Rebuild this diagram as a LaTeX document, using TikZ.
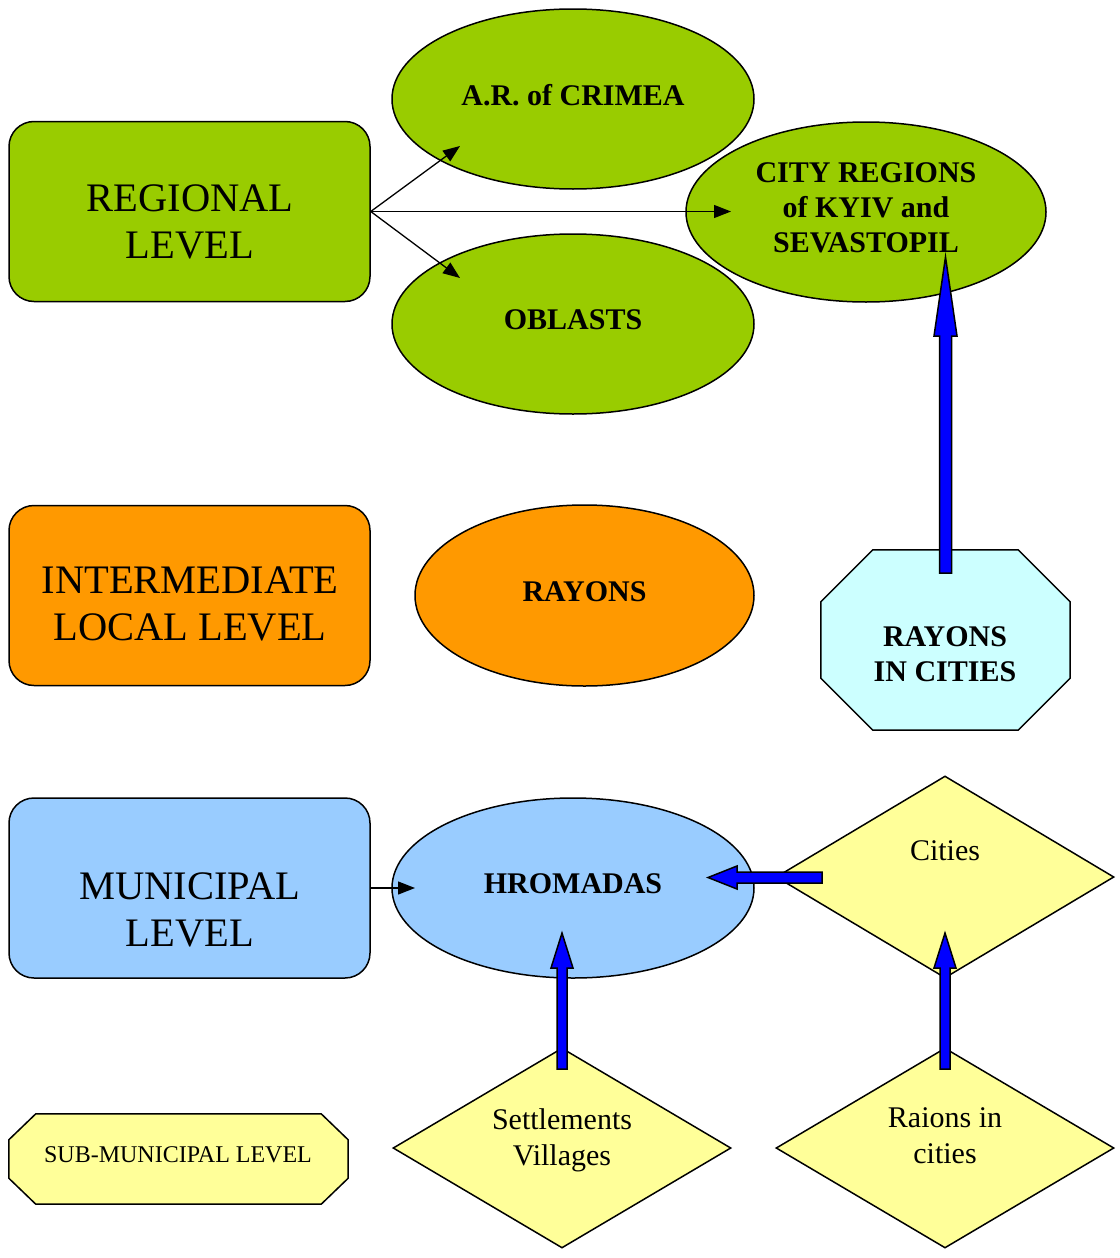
\documentclass[tikz,border=0pt]{standalone}
\usepackage{fontspec}
\setmainfont{Liberation Serif}
\usetikzlibrary{shapes.geometric,arrows.meta,calc}
\definecolor{cgreen}{HTML}{99CC00}
\definecolor{corange}{HTML}{FF9900}
\definecolor{cblue}{HTML}{99CCFF}
\definecolor{cyellow}{HTML}{FFFF99}
\definecolor{ccyan}{HTML}{CCFFFF}
\definecolor{cdeep}{HTML}{0000FF}
\begin{document}
\begin{tikzpicture}[x=1pt,y=-1pt,
  levelbox/.style={draw,line width=1.5pt,rounded corners=25pt,minimum width=361pt,minimum height=180pt,inner sep=0pt},
  leveltext/.style={font=\fontsize{40.5}{47}\selectfont,align=center,inner sep=0pt},
  ell/.style={draw,line width=1.5pt,ellipse,minimum width=362pt,minimum height=180pt,inner sep=0pt,font=\fontsize{30}{35}\selectfont\bfseries,align=center,text depth=8pt},
  dia/.style={draw,line width=1.5pt,diamond,fill=cyellow,minimum width=338pt,minimum height=200pt,inner sep=0pt},
  diatext/.style={font=\fontsize{30}{36}\selectfont,align=center,inner sep=0pt},
  octline/.style={draw,line width=1.5pt,line join=miter},
  thin/.style={line width=1.3pt,-{Triangle[length=17pt,width=13pt]}},
  blockarrow/.style={draw,line width=1.5pt,fill=cdeep,line join=miter}
]
\useasboundingbox (0,0) rectangle (1119,1258);

% level boxes
\node[levelbox,fill=cgreen] (regional) at (189.5,211.5) {};
\node[leveltext] (regionalT) at (190,222) {REGIONAL\\LEVEL};
\node[levelbox,fill=corange] (intermediate) at (189.5,595.5) {};
\node[leveltext] (intermediateT) at (190,604) {INTERMEDIATE\\LOCAL LEVEL};
\node[levelbox,fill=cblue] (municipal) at (189.5,888) {};
\node[leveltext] (municipalT) at (190,910) {MUNICIPAL\\LEVEL};

% sub-municipal octagon
\node[minimum width=339pt,minimum height=90pt,inner sep=0pt] (sub) at (178.5,1159) {};
\draw[octline,fill=cyellow] ($(sub.north west)+(27,0)$) -- ($(sub.north east)+(-27,0)$) -- ($(sub.north east)+(0,26)$) -- ($(sub.south east)+(0,-26)$) -- ($(sub.south east)+(-27,0)$) -- ($(sub.south west)+(27,0)$) -- ($(sub.south west)+(0,-26)$) -- ($(sub.north west)+(0,26)$) -- cycle;
\node[font=\fontsize{24}{27}\selectfont,inner sep=0pt] (subT) at (178,1155) {SUB-MUNICIPAL LEVEL};

% ellipses
\node[ell,fill=cgreen] (crimea) at (573,99) {A.R. of CRIMEA};
\node[ell,fill=cgreen] (oblasts) at (573,324) {OBLASTS};
\node[ell,fill=cgreen,minimum width=360pt] (cityreg) at (866,212) {CITY REGIONS\\of KYIV and\\SEVASTOPIL};
\node[ell,fill=corange,minimum width=339pt,minimum height=181pt] (rayons) at (584.5,595.5) {RAYONS};
\node[ell,fill=cblue] (hromadas) at (573,888) {HROMADAS};

% rayons in cities octagon
\node[minimum width=249pt,minimum height=180pt,inner sep=0pt] (ric) at (945.5,640) {};
\draw[octline,fill=ccyan] ($(ric.north west)+(52,0)$) -- ($(ric.north east)+(-52,0)$) -- ($(ric.north east)+(0,52)$) -- ($(ric.south east)+(0,-52)$) -- ($(ric.south east)+(-52,0)$) -- ($(ric.south west)+(52,0)$) -- ($(ric.south west)+(0,-52)$) -- ($(ric.north west)+(0,52)$) -- cycle;
\node[font=\fontsize{30}{35}\selectfont\bfseries,align=center,inner sep=0pt] (ricT) at (945,654) {RAYONS\\IN CITIES};

% diamonds
\node[dia,minimum height=202pt] (cities) at (945,877) {};
\node[diatext] (citiesT) at (945,851) {Cities};
\node[dia] (settle) at (562,1148) {};
\node[diatext] (settleT) at (562,1140) {Settlements\\Villages};
\node[dia] (raions) at (945,1148) {};
\node[diatext] (raionsT) at (945,1136) {Raions in\\cities};

% thin arrows
\coordinate (toCrimea) at (460,146);
\coordinate (toOblasts) at (460,278);
\coordinate (toCity) at (731,211.5);
\coordinate (toHrom) at (415,888);
\draw[thin] (regional.east) -- (toCrimea);
\draw[thin] (regional.east) -- (toOblasts);
\draw[thin] (regional.east) -- (toCity);
\draw[thin] (municipal.east) -- (toHrom);

% block arrows
\coordinate (a1s) at (945.5,573);
\coordinate (a1t) at (945.5,257);
\draw[blockarrow] ($(a1s)+(-6,0)$) -- ($(a1t)+(-6,79)$) -- ($(a1t)+(-11.5,79)$) -- (a1t) -- ($(a1t)+(11.5,79)$) -- ($(a1t)+(6,79)$) -- ($(a1s)+(6,0)$) -- cycle;

\coordinate (a2s) at (822,877.5);
\coordinate (a2t) at (708,877.5);
\draw[blockarrow] ($(a2s)+(0,-5.5)$) -- ($(a2t)+(29,-5.5)$) -- ($(a2t)+(29,-11.5)$) -- (a2t) -- ($(a2t)+(29,11.5)$) -- ($(a2t)+(29,5.5)$) -- ($(a2s)+(0,5.5)$) -- cycle;

\coordinate (a3s) at (562,1069);
\coordinate (a3t) at (562,933);
\draw[blockarrow] ($(a3s)+(-5,0)$) -- ($(a3t)+(-5,35)$) -- ($(a3t)+(-11,35)$) -- (a3t) -- ($(a3t)+(11,35)$) -- ($(a3t)+(5,35)$) -- ($(a3s)+(5,0)$) -- cycle;

\coordinate (a4s) at (945,1069);
\coordinate (a4t) at (945,933);
\draw[blockarrow] ($(a4s)+(-5,0)$) -- ($(a4t)+(-5,35)$) -- ($(a4t)+(-11,35)$) -- (a4t) -- ($(a4t)+(11,35)$) -- ($(a4t)+(5,35)$) -- ($(a4s)+(5,0)$) -- cycle;
\end{tikzpicture}
\end{document}
